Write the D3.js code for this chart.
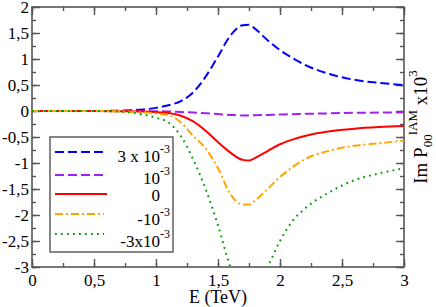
<!DOCTYPE html>
<html>
<head lang="en">
    <meta charset="UTF-8">
    <title></title>
    <script src="https://cdn.jsdelivr.net/npm/d3@7"></script>
    <style>
        body{margin:0;background:#fff;}
        svg text{font-family:"Liberation Serif","Times New Roman",Times,serif !important;fill:#000;}
    </style>
</head>
<body>

<script language="JavaScript">

    var energy=[0,0.5,0.75,0.9,1.0,1.1,1.2,1.3,1.4,1.5,1.6,1.7,1.75,1.8,1.9,2.0,2.1,2.2,2.4,2.6,2.8,3.0];

    var plus3 =[0,0,0.01,0.03,0.06,0.11,0.19,0.36,0.66,1.05,1.45,1.65,1.66,1.58,1.36,1.17,1.02,0.89,0.71,0.6,0.54,0.5];
    var plus1 =[0,0,0,0,-0.005,-0.01,-0.02,-0.03,-0.045,-0.06,-0.075,-0.085,-0.085,-0.083,-0.075,-0.068,-0.062,-0.055,-0.045,-0.035,-0.03,-0.025];
    var zero  =[0,0,-0.005,-0.01,-0.02,-0.04,-0.09,-0.2,-0.38,-0.6,-0.8,-0.94,-0.95,-0.9,-0.77,-0.64,-0.55,-0.48,-0.39,-0.34,-0.31,-0.29];
    var minus1=[0,0,-0.01,-0.03,-0.05,-0.08,-0.22,-0.48,-0.72,-1.1,-1.6,-1.8,-1.8,-1.72,-1.5,-1.27,-1.08,-0.93,-0.76,-0.67,-0.62,-0.57];
    var minus3=[0,0,-0.02,-0.07,-0.13,-0.22,-0.48,-0.93,-1.5,-2.2,-3.0,-3.5,-3.55,-3.45,-3.0,-2.5,-2.12,-1.88,-1.56,-1.33,-1.2,-1.1];

    var labels=[["3 x 10","-3"],["10","-3"],["0",""],["-10","-3"],["-3x10","-3"]];

    var xTicks=[0,0.5,1,1.5,2,2.5,3];
    var yTicks=[-3,-2.5,-2,-1.5,-1,-0.5,0,0.5,1,1.5,2];

    var series=[
        {values:plus3, color:"#0000ff", dash:"9,4"},
        {values:plus1, color:"#a020f0", dash:"9,4"},
        {values:zero, color:"#ff0000", dash:null},
        {values:minus1, color:"#ffa500", dash:"8,3,2,3"},
        {values:minus3, color:"#00a000", dash:"1.8,4.2"}
    ];

    var W=436,H=307;
    var pL=32,pR=404,pT=7,pB=267;
    var serif="'Liberation Serif','Times New Roman',Times,serif";

    var svg=d3.select("body").append("svg")
            .attr("width",W)
            .attr("height",H)
            .attr("font-family",serif);

    var x=d3.scaleLinear().domain([0,3]).range([pL,pR]);
    var y=d3.scaleLinear().domain([-3,2]).range([pB,pT]);

    svg.append("defs").append("clipPath").attr("id","plotClip")
            .append("rect")
            .attr("x",pL).attr("y",pT)
            .attr("width",pR-pL).attr("height",pB-pT);

    var fmt=function(d){return String(d).replace(".",",");};
    var minorX=d3.range(0,3.001,0.25), minorY=d3.range(-3,2.001,0.25);
    var axisColor="#555";

    function styleAxis(g){
        g.attr("font-family",serif);
        g.select(".domain").remove();
        g.selectAll("line").attr("stroke",axisColor).attr("stroke-width",1.4);
        g.selectAll("text").style("font-size","17px").style("font-family",serif).attr("fill","#000");
    }

    // minor ticks
    svg.append("g").attr("transform","translate(0,"+pB+")")
            .call(d3.axisBottom(x).tickValues(minorX).tickSize(-4).tickFormat("")).call(styleAxis);
    svg.append("g").attr("transform","translate(0,"+pT+")")
            .call(d3.axisTop(x).tickValues(minorX).tickSize(-4).tickFormat("")).call(styleAxis);
    svg.append("g").attr("transform","translate("+pL+",0)")
            .call(d3.axisLeft(y).tickValues(minorY).tickSize(-4).tickFormat("")).call(styleAxis);
    svg.append("g").attr("transform","translate("+pR+",0)")
            .call(d3.axisRight(y).tickValues(minorY).tickSize(-4).tickFormat("")).call(styleAxis);

    // major ticks
    svg.append("g").attr("transform","translate(0,"+pB+")")
            .call(d3.axisBottom(x).tickValues(xTicks).tickSize(-8).tickPadding(7).tickFormat(fmt)).call(styleAxis);
    svg.append("g").attr("transform","translate(0,"+pT+")")
            .call(d3.axisTop(x).tickValues(xTicks).tickSize(-8).tickFormat("")).call(styleAxis);
    svg.append("g").attr("transform","translate("+pL+",0)")
            .call(d3.axisLeft(y).tickValues(yTicks).tickSize(-8).tickPadding(3).tickFormat(fmt)).call(styleAxis);
    svg.append("g").attr("transform","translate("+pR+",0)")
            .call(d3.axisRight(y).tickValues(yTicks).tickSize(-8).tickFormat("")).call(styleAxis);

    svg.append("rect")
            .attr("x",pL).attr("y",pT)
            .attr("width",pR-pL).attr("height",pB-pT)
            .attr("fill","none").attr("stroke",axisColor).attr("stroke-width",1.6);

    var line=d3.line()
            .x(function(d,i){return x(energy[i]);})
            .y(function(d){return y(d);})
            .curve(d3.curveMonotoneX);

    svg.append("g").attr("clip-path","url(#plotClip)")
            .selectAll("path")
            .data(series)
            .enter()
            .append("path")
            .attr("d",function(d){return line(d.values);})
            .attr("fill","none")
            .attr("stroke",function(d){return d.color;})
            .attr("stroke-width",2)
            .attr("stroke-dasharray",function(d){return d.dash;});

    // legend
    var leg=svg.append("g");
    leg.append("rect")
            .attr("x",50).attr("y",137)
            .attr("width",123).attr("height",115)
            .attr("fill","#fff").attr("stroke",axisColor).attr("stroke-width",1.4);

    var lineY=[152,175,194,214,234];
    var textY=[162,184,201,225,247];

    leg.selectAll(".ll").data(series).enter().append("line")
            .attr("x1",55).attr("x2",function(d,i){return i==2?107:104;})
            .attr("y1",function(d,i){return lineY[i];})
            .attr("y2",function(d,i){return lineY[i];})
            .attr("stroke",function(d){return d.color;})
            .attr("stroke-width",2)
            .attr("stroke-dasharray",function(d){return d.dash;});

    leg.selectAll(".lt").data(labels).enter().append("text")
            .attr("x",160).attr("y",function(d,i){return textY[i];})
            .attr("text-anchor","end")
            .style("font-size","17px")
            .text(function(d){return d[0];});

    leg.selectAll(".ls").data(labels).enter().append("text")
            .attr("x",160).attr("y",function(d,i){return textY[i]-9;})
            .style("font-size","12px")
            .text(function(d){return d[1];});

    // axis titles
    svg.append("text")
            .attr("x",x(1.5)).attr("y",303)
            .attr("text-anchor","middle")
            .style("font-size","18px")
            .text("E (TeV)");

    var yl=svg.append("text")
            .attr("transform","translate(427,127) rotate(-90)")
            .attr("text-anchor","middle")
            .style("font-size","19px");
    yl.append("tspan").text("Im P");
    yl.append("tspan").attr("dy",5).style("font-size","13px").text("00");
    yl.append("tspan").attr("dy",-15).attr("dx",-1).style("font-size","13px").text("IAM");
    yl.append("tspan").attr("dy",10).text(" x10");
    yl.append("tspan").attr("dy",-10).style("font-size","13px").text("3");

</script>
</body>
</html>
